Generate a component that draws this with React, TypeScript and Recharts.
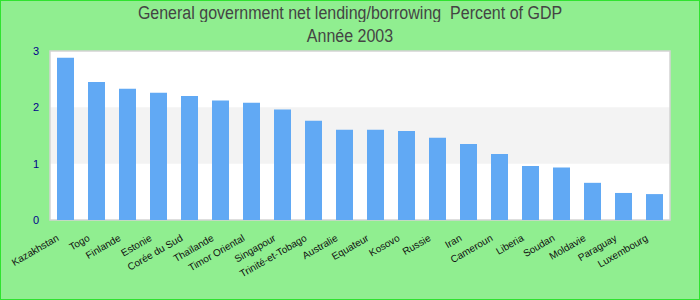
import React from "react";
import { BarChart, Bar, XAxis, YAxis, ReferenceArea } from "recharts";

const countries = [
  "Kazakhstan", "Togo", "Finlande", "Estonie", "Corée du Sud", "Thaïlande",
  "Timor Oriental", "Singapour", "Trinité-et-Tobago", "Australie", "Equateur",
  "Kosovo", "Russie", "Iran", "Cameroun", "Liberia", "Soudan", "Moldavie",
  "Paraguay", "Luxembourg",
];
const values = [
  2.88, 2.45, 2.33, 2.26, 2.2, 2.12, 2.08, 1.96, 1.76, 1.6, 1.6, 1.58, 1.46,
  1.35, 1.17, 0.96, 0.93, 0.66, 0.48, 0.46,
];
const yTicks = [0, 1, 2, 3];
const titleLine1 = "General government net lending/borrowing  Percent of GDP";
const titleLine2 = "Année 2003";

const data = countries.map((name, i) => ({ name, value: values[i] }));

const FONT = "'Liberation Sans', Arial, sans-serif";

function XTick(props: any) {
  const { x, y, payload } = props;
  const ax = x - 6;
  const ay = y + 20;
  return (
    <text
      x={ax}
      y={ay}
      transform={`rotate(-30, ${ax}, ${ay})`}
      textAnchor="end"
      fontSize={10}
      fill="#111"
      fontFamily={FONT}
    >
      {payload.value}
    </text>
  );
}

const titleStyle: React.CSSProperties = {
  position: "absolute",
  left: 0,
  width: 700,
  textAlign: "center",
  fontSize: 16,
  color: "#444",
  lineHeight: "18px",
  whiteSpace: "pre",
  transform: "scaleY(1.1)",
};

export default function App() {
  return (
    <div
      style={{
        position: "absolute",
        left: 0,
        top: 0,
        width: 700,
        height: 300,
        background: "#90ee90",
        fontFamily: FONT,
        overflow: "hidden",
      }}
    >
      <BarChart
        width={700}
        height={300}
        data={data}
        margin={{ top: 51, right: 30, left: 0, bottom: 0 }}
        barSize={17}
      >
        <XAxis
          dataKey="name"
          interval={0}
          height={80}
          axisLine={false}
          tickLine={false}
          tickSize={0}
          tickMargin={0}
          tick={<XTick />}
        />
        <YAxis
          domain={[0, 3]}
          ticks={yTicks}
          width={50}
          axisLine={false}
          tickLine={false}
          tickSize={0}
          tickMargin={11}
          tick={{ fontSize: 11, fill: "#00008b", fontFamily: FONT }}
        />
        <ReferenceArea y1={0} y2={3} fill="#ffffff" fillOpacity={1} stroke="none" />
        <ReferenceArea y1={1} y2={2} fill="#f3f3f3" fillOpacity={1} stroke="none" />
        <ReferenceArea y1={0} y2={3} fill="none" stroke="#d3d3d3" strokeWidth={1.5} />
        <Bar dataKey="value" fill="#61a9f4" isAnimationActive={false} />
      </BarChart>
      <div style={{ ...titleStyle, top: 4 }}>{titleLine1}</div>
      <div style={{ ...titleStyle, top: 28 }}>{titleLine2}</div>
      <div
        style={{
          position: "absolute",
          left: 0,
          top: 0,
          width: 700,
          height: 300,
          boxSizing: "border-box",
          border: "1.5px solid #2fe32f",
          pointerEvents: "none",
        }}
      />
    </div>
  );
}
